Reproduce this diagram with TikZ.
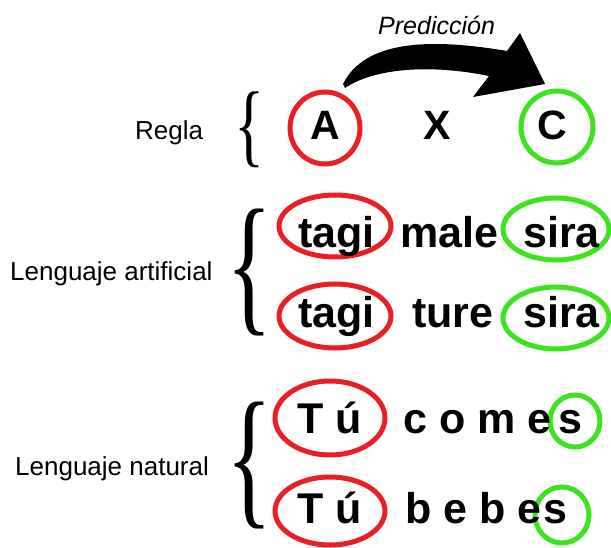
\documentclass[tikz,border=0pt]{standalone}
\usepackage{fontspec}
\setmainfont{Liberation Sans}
\newfontfamily\bracefont{Liberation Serif}
\usepackage{graphicx}
\usetikzlibrary{shapes.geometric}
\definecolor{ringred}{RGB}{235,30,36}
\definecolor{ringgreen}{RGB}{60,228,30}
\tikzset{
  lbl/.style={font=\fontsize{26}{30}\selectfont, anchor=base west, inner sep=0pt},
  word/.style={font=\bfseries\fontsize{43}{50}\selectfont, anchor=base west, inner sep=0pt},
  rulel/.style={font=\bfseries\fontsize{41}{48}\selectfont, anchor=base, inner sep=0pt},
  redring/.style={draw=ringred, line width=5pt, ellipse, inner sep=0pt},
  greenring/.style={draw=ringgreen, line width=5pt, ellipse, inner sep=0pt},
  brc/.style={inner sep=0pt, outer sep=0pt}
}
\newcommand{\mybrace}[2]{\resizebox*{#1pt}{#2pt}{\bracefont\{}}
\begin{document}
\begin{tikzpicture}[x=1pt,y=-1pt]
\useasboundingbox (0,0) rectangle (611,548);
\fill[white] (0,0) rectangle (611,548);

% Rule row
\node[lbl] (regla) at (135,140) {Regla};
\node[brc] (b1) at (250,130) {\mybrace{30}{76}};
\node[redring, minimum width=70pt, minimum height=72pt] (ca) at (325,128) {};
\node[greenring, minimum width=72pt, minimum height=72pt] (cc) at (557,127) {};
\node[rulel] (ta) at (325,140) {A};
\node[rulel] (tx) at (437,140) {X};
\node[rulel] (tc) at (552,140) {C};
\node[lbl, font=\itshape\fontsize{25}{30}\selectfont] (pred) at (378,35) {Predicción};
\fill (343,84) .. controls (365,40) and (430,38) .. (507,51)
  -- (520,33) -- (545,84) -- (473,97) -- (489,76)
  .. controls (430,64) and (375,68) .. (345,88) -- cycle;

% Artificial language
\node[lbl] (artif) at (10,281) {Lenguaje artificial};
\node[brc] (b2) at (250,273) {\mybrace{46}{127}};
\node[redring, minimum width=112pt, minimum height=62pt] (r1) at (335,226) {};
\node[greenring, minimum width=106pt, minimum height=62pt] (g1) at (556,229) {};
\node[word] (w11) at (298,248) {tagi};
\node[word] (w12) at (400,248) {male};
\node[word] (w13) at (523,248) {sira};
\node[redring, minimum width=112pt, minimum height=64pt] (r2) at (335,316) {};
\node[greenring, minimum width=106pt, minimum height=62pt] (g2) at (556,318) {};
\node[word] (w21) at (298,328) {tagi};
\node[word] (w22) at (412,328) {ture};
\node[word] (w23) at (523,328) {sira};

% Natural language
\node[lbl] (natur) at (15,475) {Lenguaje natural};
\node[brc] (b3) at (250,466) {\mybrace{46}{127}};
\node[redring, minimum width=110pt, minimum height=74pt] (r3) at (330,418) {};
\node[greenring, minimum width=50pt, minimum height=52pt] (g3) at (575,421) {};
\node[word] (w31) at (297,433) {T ú};
\node[word] (w32) at (403,433) {c o m e};
\node[word] (w33) at (558,433) {s};
\node[redring, minimum width=110pt, minimum height=68pt] (r4) at (330,511) {};
\node[greenring, minimum width=54pt, minimum height=56pt] (g4) at (562,515) {};
\node[word] (w41) at (297,523) {T ú};
\node[word] (w42) at (405,523) {b e b e};
\node[word] (w43) at (543,523) {s};
\end{tikzpicture}
\end{document}
